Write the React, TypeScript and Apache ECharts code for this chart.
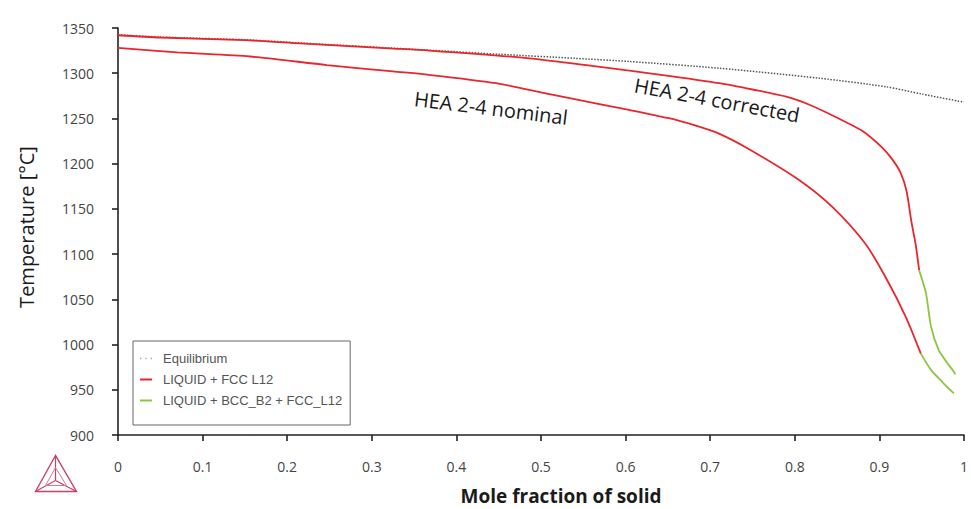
import React, { useEffect, useRef } from "react";
import * as echarts from "echarts";

// ---- Data (mole fraction of solid, temperature °C) ----
const eqX = [0, 0.05, 0.15, 0.215, 0.32, 0.376, 0.45, 0.54, 0.604, 0.711, 0.829, 0.908, 0.95, 1.0];
const eqT = [1342.5, 1340, 1337, 1333.5, 1328, 1325, 1321, 1316.5, 1313, 1305.5, 1294.5, 1285, 1277, 1268];

const corrRedX = [0, 0.05, 0.15, 0.215, 0.32, 0.368, 0.486, 0.565, 0.644, 0.711, 0.75, 0.79, 0.82, 0.856, 0.88, 0.903, 0.915, 0.925, 0.932, 0.938, 0.943, 0.947];
const corrRedT = [1342, 1339.5, 1336.5, 1333, 1327.5, 1325, 1316.5, 1307.5, 1298, 1289, 1282, 1274, 1264, 1248, 1236, 1218, 1205, 1190, 1170, 1135, 1110, 1082];

const corrGreenX = [0.947, 0.955, 0.961, 0.97, 0.98, 0.988, 0.99];
const corrGreenT = [1082, 1057, 1020, 994, 980, 970, 967];

const nomRedX = [0, 0.07, 0.156, 0.247, 0.325, 0.37, 0.447, 0.486, 0.525, 0.604, 0.65, 0.683, 0.711, 0.746, 0.805, 0.844, 0.883, 0.907, 0.931, 0.949];
const nomRedT = [1328, 1323, 1318.5, 1309, 1302, 1298, 1289, 1281.5, 1274, 1259.5, 1250.5, 1242, 1233, 1216, 1182, 1152.5, 1112, 1075, 1031, 990];

const nomGreenX = [0.949, 0.961, 0.975, 0.988];
const nomGreenT = [990, 972, 958, 946];

const seriesNames = ["Equilibrium", "LIQUID + FCC L12", "LIQUID + BCC_B2 + FCC_L12"];
const xTitle = "Mole fraction of solid";
const yTitle = "Temperature [°C]";
const labelNominal = "HEA 2-4 nominal";
const labelCorrected = "HEA 2-4 corrected";

const zip = (xs: number[], ys: number[]) => xs.map((x, i) => [x, ys[i]]);

const RED = "#e8262c";
const GREEN = "#8dc63f";
const DOTS_ICON = "path://M0 0h1v1h-1zM4 0h1v1h-1zM8 0h1v1h-1z";

export default function App() {
  const ref = useRef<HTMLDivElement>(null);
  useEffect(() => {
    if (!ref.current) return;
    const chart = echarts.init(ref.current, undefined, { renderer: "svg" });
    const lineBase = { type: "line" as const, showSymbol: false, symbol: "none", smooth: 0.25 };
    const plain = (v: number) => String(Math.round(v * 1000) / 1000);
    chart.setOption({
      animation: false,
      backgroundColor: "#ffffff",
      grid: { left: 118, right: 6, top: 28, bottom: 74 },
      legend: {
        orient: "vertical",
        left: 133,
        top: 341,
        padding: [10, 8, 17, 7],
        itemGap: 6,
        itemWidth: 12,
        itemHeight: 2,
        borderColor: "#666",
        borderWidth: 1,
        data: [
          { name: seriesNames[0], icon: DOTS_ICON, itemStyle: { color: "#aaa" } },
          { name: seriesNames[1], icon: "rect" },
          { name: seriesNames[2], icon: "rect" },
        ],
        textStyle: { fontFamily: "Liberation Sans", fontSize: 13, color: "#555", padding: [0, 0, 0, 6], lineHeight: 15 },
      },
      xAxis: {
        type: "value",
        min: 0,
        max: 1,
        interval: 0.1,
        splitLine: { show: false },
        axisLine: { lineStyle: { color: "#222", width: 1.6 } },
        axisTick: { length: 6, lineStyle: { color: "#222", width: 1.6 } },
        axisLabel: { fontFamily: "Open Sans", fontSize: 14, color: "#444", margin: 24, formatter: plain },
      },
      yAxis: {
        type: "value",
        min: 900,
        max: 1350,
        interval: 50,
        splitLine: { show: false },
        axisLine: { show: true, lineStyle: { color: "#222", width: 1.6 } },
        axisTick: { show: true, length: 6, lineStyle: { color: "#222", width: 1.6 } },
        axisLabel: { fontFamily: "Open Sans", fontSize: 14, color: "#444", margin: 24, formatter: plain },
      },
      series: [
        {
          ...lineBase,
          name: seriesNames[0],
          data: zip(eqX, eqT),
          z: 3,
          lineStyle: { color: "#555", width: 1.5, type: [1.5, 1.5] },
          itemStyle: { color: "#aaa" },
        },
        {
          ...lineBase,
          name: seriesNames[1],
          data: zip(corrRedX, corrRedT),
          lineStyle: { color: RED, width: 1.8 },
          itemStyle: { color: RED },
        },
        {
          ...lineBase,
          name: seriesNames[1],
          data: zip(nomRedX, nomRedT),
          lineStyle: { color: RED, width: 1.8 },
          itemStyle: { color: RED },
        },
        {
          ...lineBase,
          name: seriesNames[2],
          data: zip(corrGreenX, corrGreenT),
          lineStyle: { color: GREEN, width: 1.8 },
          itemStyle: { color: GREEN },
        },
        {
          ...lineBase,
          name: seriesNames[2],
          data: zip(nomGreenX, nomGreenT),
          lineStyle: { color: GREEN, width: 1.8 },
          itemStyle: { color: GREEN },
        },
      ],
      graphic: [
        {
          type: "text",
          x: 561,
          y: 496,
          style: {
            text: xTitle,
            fontFamily: "Open Sans",
            fontWeight: "bold",
            fontSize: 19,
            lineHeight: 19,
            fill: "#1a1a1a",
            align: "center",
            verticalAlign: "middle",
          },
        },
        {
          type: "text",
          x: 26,
          y: 227,
          rotation: Math.PI / 2,
          style: {
            text: yTitle,
            fontFamily: "Open Sans",
            fontSize: 20,
            fill: "#1a1a1a",
            align: "center",
            verticalAlign: "middle",
          },
        },
        {
          type: "text",
          x: 491,
          y: 108,
          rotation: (-7 * Math.PI) / 180,
          style: {
            text: labelNominal,
            fontFamily: "Open Sans",
            fontSize: 20,
            fill: "#1a1a1a",
            align: "center",
            verticalAlign: "middle",
          },
        },
        {
          type: "text",
          x: 717,
          y: 100,
          rotation: (-10.5 * Math.PI) / 180,
          style: {
            text: labelCorrected,
            fontFamily: "Open Sans",
            fontSize: 20,
            fill: "#1a1a1a",
            align: "center",
            verticalAlign: "middle",
          },
        },
        {
          type: "group",
          left: 33,
          top: 453,
          children: [
            {
              type: "polygon",
              shape: { points: [[20, 0], [0, 36], [41, 36]] },
              style: { fill: "none", stroke: "#c8416a", lineWidth: 1.4 },
            },
            {
              type: "polyline",
              shape: { points: [[20, 0], [20, 25], [0, 36]] },
              style: { fill: "none", stroke: "#c8416a", lineWidth: 1.2 },
            },
            {
              type: "polyline",
              shape: { points: [[20, 25], [41, 36]] },
              style: { fill: "none", stroke: "#c8416a", lineWidth: 1.2 },
            },
            {
              type: "polygon",
              shape: { points: [[20, 12], [10, 30], [31, 30]] },
              style: { fill: "none", stroke: "#d57793", lineWidth: 1 },
            },
          ],
        },
      ],
    });
    return () => chart.dispose();
  }, []);
  return (
    <div
      ref={ref}
      style={{ position: "fixed", left: 0, top: 0, width: 971, height: 509, background: "#fff" }}
    />
  );
}
